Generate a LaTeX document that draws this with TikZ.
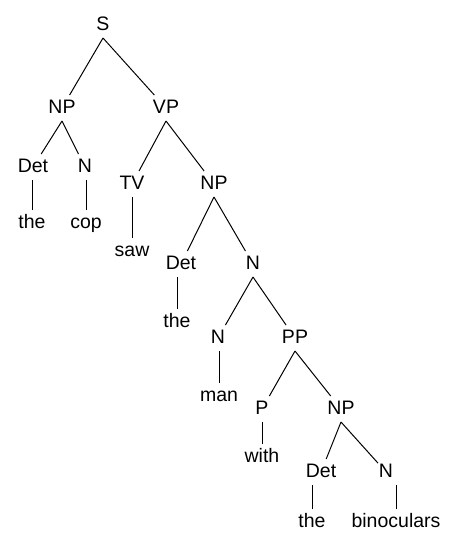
\documentclass[tikz,border=0pt]{standalone}
\usepackage{fontspec}
\setmainfont{Liberation Sans}
\begin{document}
\begin{tikzpicture}[x=1pt,y=-1pt,
  lab/.style={anchor=base,font=\fontsize{19.5}{23}\selectfont,text height=14pt,text depth=4pt,inner xsep=1pt,inner ysep=4pt,outer sep=0pt},
  edge/.style={line width=1pt,black}]
\useasboundingbox (0,0) rectangle (458,544);
\node[lab] (S) at (103,30) {S};
\node[lab] (NPa) at (62,113) {NP};
\node[lab] (VP) at (166,113) {VP};
\node[lab] (Deta) at (33,172) {Det};
\node[lab] (Na) at (85,172) {N};
\node[lab] (thea) at (32,228) {the};
\node[lab] (cop) at (86,228) {cop};
\node[lab] (TV) at (132,189) {TV};
\node[lab] (NPb) at (214,189) {NP};
\node[lab] (saw) at (132,256) {saw};
\node[lab] (Detb) at (181,269) {Det};
\node[lab] (Nb) at (253,269) {N};
\node[lab] (theb) at (177,327) {the};
\node[lab] (Nc) at (218,343) {N};
\node[lab] (PP) at (295,343) {PP};
\node[lab] (man) at (219,401) {man};
\node[lab] (P) at (262,414) {P};
\node[lab] (NPc) at (341,414) {NP};
\node[lab] (with) at (262,462) {with};
\node[lab] (Detc) at (321,477) {Det};
\node[lab] (Nd) at (386,477) {N};
\node[lab] (thec) at (312,527) {the};
\node[lab] (bin) at (396,527) {binoculars};
% binary branches
\foreach \p/\c in {S/NPa,S/VP,NPa/Deta,NPa/Na,VP/TV,VP/NPb,NPb/Detb,NPb/Nb,Nb/Nc,Nb/PP,PP/P,PP/NPc,NPc/Detc,NPc/Nd}
  \draw[edge] (\p.south) -- (\c);
% unary branches
\foreach \p/\c in {Deta/thea,Na/cop,TV/saw,Detb/theb,Nc/man,P/with,Detc/thec,Nd/bin}
  \draw[edge] (\c.north) -- (\c.north |- \p.south);
\end{tikzpicture}
\end{document}
